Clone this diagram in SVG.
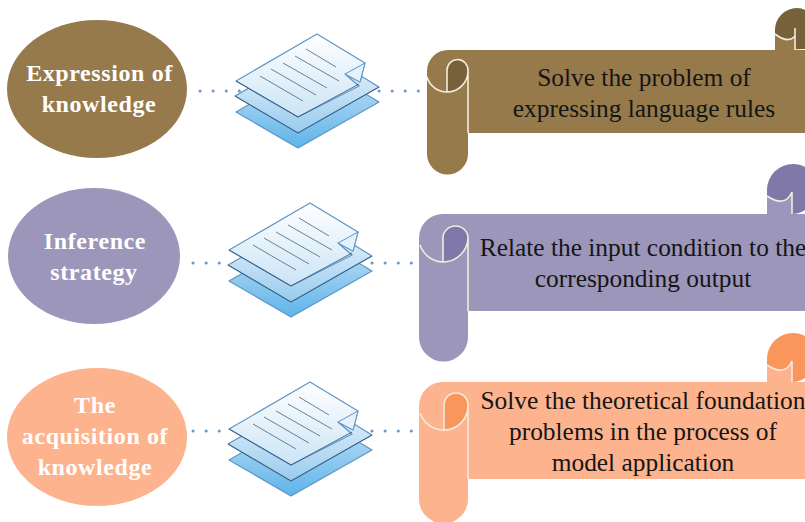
<svg xmlns="http://www.w3.org/2000/svg" width="805" height="522" viewBox="0 0 805 522">
<style>
.lbl{font-family:"Liberation Serif",serif;font-weight:bold;font-size:24px;fill:#fff;text-anchor:middle;letter-spacing:.6px}
.txt{font-family:"Liberation Serif",serif;font-size:25.4px;fill:#151515;text-anchor:middle}
.dots{fill:none;stroke:#6a97cc;stroke-width:3;stroke-linecap:round;stroke-dasharray:.1 13}
.sheet{stroke:#5f94c4;stroke-width:1.2;stroke-linejoin:round}
.ln{stroke:#6b7f95;stroke-width:1;fill:none}
.edge{fill:none;stroke:#f3ecdf;stroke-width:1.6}
</style>
<defs>
<linearGradient id="g3" x1="0" y1="0" x2="0" y2="1"><stop offset="0" stop-color="#cfe5f6"/><stop offset="1" stop-color="#5db4ea"/></linearGradient>
<linearGradient id="g2" x1="0" y1="0" x2="0" y2="1"><stop offset="0" stop-color="#f4f9fd"/><stop offset="1" stop-color="#98cbee"/></linearGradient>
<linearGradient id="g1" x1="0" y1="0" x2="0" y2="1"><stop offset="0" stop-color="#ffffff"/><stop offset="1" stop-color="#cbe4f6"/></linearGradient>
<g id="doc">
<polygon class="sheet" points="236,112 317,65 379,102 298,148" fill="url(#g3)"/>
<polygon class="sheet" points="235,96 317,49 379,87 298,133" fill="url(#g2)"/>
<path d="M235,96 L298,133 L379,87" fill="none" stroke="#2f4f6f" stroke-width=".8"/>
<polygon class="sheet" points="236,81 317,34 365,63 360,82 345,74 359,86 298,117" fill="url(#g1)"/>
<path d="M236,81 L298,117 L359,84" fill="none" stroke="#2f4f6f" stroke-width=".8"/>
<polygon points="345,74 365,63 360,82" fill="#e6f2fb" stroke="#5f94c4" stroke-width="1"/>
<path class="ln" d="M306,49 L336,67 M295,56 L339,81 M283,63 L327,88 M271,69 L316,95 M260,76 L303,101"/>
</g>
</defs>
<g id="connectors">
<path class="dots" d="M200,91 H240 M379,91 H420"/>
<path class="dots" d="M193,263 H232 M372,263 H413"/>
<path class="dots" d="M193,431 H232 M372,431 H413"/>
</g>
<g id="node-knowledge-expression">
<ellipse cx="97" cy="89" rx="90" ry="69" fill="#967a4b"/>
<text class="lbl" x="99.500" y="81">Expression of</text>
<text class="lbl" x="99" y="112">knowledge</text>
</g>
<g id="node-inference">
<ellipse cx="94" cy="256" rx="86" ry="68" fill="#9c96bb"/>
<text class="lbl" x="95" y="249">Inference</text>
<text class="lbl" x="94" y="280">strategy</text>
</g>
<g id="node-acquisition">
<ellipse cx="97" cy="437" rx="90" ry="69" fill="#fdb38d"/>
<text class="lbl" x="95" y="413">The</text>
<text class="lbl" x="95" y="444">acquisition of</text>
<text class="lbl" x="95" y="475">knowledge</text>
</g>
<g id="node-doc-1"><use href="#doc"/></g>
<g id="node-doc-2"><use href="#doc" transform="translate(-7,169)"/></g>
<g id="node-doc-3"><use href="#doc" transform="translate(-7,348)"/></g>
<g id="node-scroll-1">
<path d="M775,50 V30 A22,22 0 0 1 797,8 Q802,8 805,10 V49 Z" fill="#78603a"/>
<path d="M775,34 Q788,44 795,36 V50 H775 Z" fill="#967a4b"/>
<path class="edge" d="M775,34 Q788,44 795,36 M795,28 V50"/>
<path d="M448,50 H805 V133 H468 V154 A20.500,20.500 0 0 1 427,154 V71 A21,21 0 0 1 448,50 Z" fill="#967a4b"/>
<path d="M447,92 V70 A10.500,10.500 0 0 1 468,70 V71 A21,21 0 0 1 447,92 Z" fill="#78603a"/>
<path class="edge" d="M427,77 A21,21 0 0 0 447,92 A21,21 0 0 0 468,71 A10.500,11 0 0 0 447,70 V92 M468,71 V133"/>
<text class="txt" x="644" y="85.500">Solve the problem of</text>
<text class="txt" x="644" y="116.500">expressing language rules</text>
</g>
<g id="node-scroll-2">
<path d="M767,214 V190 A26,26 0 0 1 793,164 Q800,164 805,167 V210 Q799,214 792,214 Z" fill="#7f78a8"/>
<path d="M767,196 Q785,208 792,192 V214 H767 Z" fill="#9c96bb"/>
<path class="edge" d="M767,196 Q785,208 792,192 V214"/>
<path d="M443,214 H805 V311 H468 V337 A24.500,24.500 0 0 1 419,337 V238 A24,24 0 0 1 443,214 Z" fill="#9c96bb"/>
<path d="M443,262 V238 A12.500,12.500 0 0 1 468,238 A25,25 0 0 1 443,262 Z" fill="#7f78a8"/>
<path class="edge" d="M420,245 A25,25 0 0 0 443,262 A25,25 0 0 0 468,238 A12.500,12 0 0 0 443,238 V262 M468,238 V311"/>
<text class="txt" x="643" y="255.500">Relate the input condition to the</text>
<text class="txt" x="643" y="286.500">corresponding output</text>
</g>
<g id="node-scroll-3">
<path d="M767,382 V359 A26,26 0 0 1 793,333 Q800,333 805,336 V378 Q799,382 792,382 Z" fill="#f9965c"/>
<path d="M767,365 Q785,377 792,361 V382 H767 Z" fill="#fdb38d"/>
<path class="edge" d="M767,365 Q785,377 792,361 V382"/>
<path d="M443,382 H805 V479 H468 V499 A24.500,24.500 0 0 1 419,499 V406 A24,24 0 0 1 443,382 Z" fill="#fdb38d"/>
<path d="M444,430 V405 A12,12 0 0 1 468,405 A24,24 0 0 1 444,430 Z" fill="#f9965c"/>
<path class="edge" d="M420,413 A25,25 0 0 0 444,430 A24,24 0 0 0 468,405 A12,12 0 0 0 444,405 V430 M468,405 V479"/>
<text class="txt" x="643" y="408.500">Solve the theoretical foundation</text>
<text class="txt" x="643" y="439.500">problems in the process of</text>
<text class="txt" x="643" y="470.500">model application</text>
</g>
</svg>
